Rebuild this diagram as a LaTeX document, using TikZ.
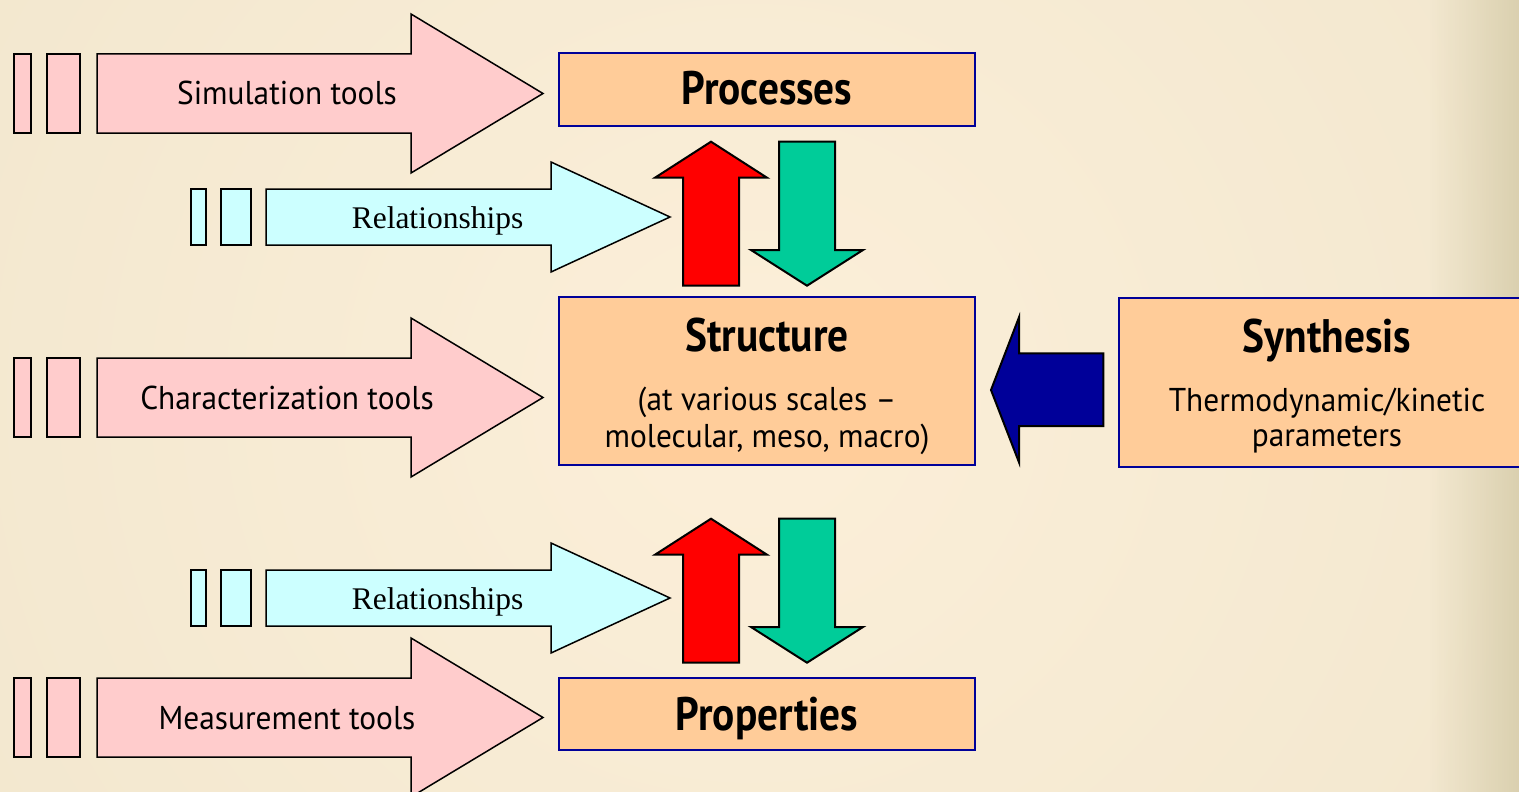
\documentclass[tikz,border=0pt]{standalone}
\usepackage{fontspec}
\setmainfont{Liberation Serif}
\newfontfamily\regf{PT Sans}[FakeStretch=0.95]
\newfontfamily\boldf{PT Sans}[FakeStretch=0.88]
\definecolor{pinkf}{HTML}{FFCCCC}
\definecolor{cyanf}{HTML}{CCFFFF}
\definecolor{peach}{HTML}{FFCC99}
\definecolor{navy}{HTML}{000099}
\definecolor{redf}{HTML}{FF0000}
\definecolor{greenf}{HTML}{00CC99}
\definecolor{bgin}{HTML}{FCEFD9}
\definecolor{bgout}{HTML}{E9E0C5}
\definecolor{bgedge}{HTML}{D6CCAA}
\tikzset{
  toolshape/.style={draw=black, line width=1.5pt, fill=pinkf, line join=miter},
  relshape/.style={draw=black, line width=1.5pt, fill=cyanf, line join=miter},
  upshape/.style={draw=black, line width=2pt, fill=redf, line join=miter},
  downshape/.style={draw=black, line width=2pt, fill=greenf, line join=miter},
  leftshape/.style={draw=black, line width=2pt, fill=navy, line join=miter},
  bluebox/.style={draw=navy, line width=2pt, fill=peach, minimum width=416pt, inner sep=0pt},
  tooltext/.style={font=\regf\fontsize{33}{38}\selectfont, anchor=base, inner sep=0pt},
  reltext/.style={font=\fontsize{31.5}{36}\selectfont, anchor=base, inner sep=0pt},
  titletext/.style={font=\boldf\bfseries\fontsize{47}{52}\selectfont, anchor=base, inner sep=0pt},
  subtext/.style={font=\regf\fontsize{33}{38}\selectfont, anchor=base, inner sep=0pt},
}
\newcommand{\toolarrow}[1]{%
  \draw[toolshape] (14,#1-39.5) rectangle (31,#1+39.5);
  \draw[toolshape] (47,#1-39.5) rectangle (80,#1+39.5);
  \draw[toolshape] (97,#1-39.5) -- (411,#1-39.5) -- (411,#1-79.5) -- (543,#1)
     -- (411,#1+79.5) -- (411,#1+39.5) -- (97,#1+39.5) -- cycle;}
\newcommand{\relarrow}[1]{%
  \draw[relshape] (191,#1-28) rectangle (206,#1+28);
  \draw[relshape] (221,#1-28) rectangle (251,#1+28);
  \draw[relshape] (266,#1-28) -- (551,#1-28) -- (551,#1-55) -- (670,#1)
     -- (551,#1+55) -- (551,#1+28) -- (266,#1+28) -- cycle;}
\newcommand{\updownpair}[1]{%
  \draw[upshape] (683,#1+144) -- (683,#1+36) -- (655,#1+36) -- (711,#1)
     -- (767,#1+36) -- (739,#1+36) -- (739,#1+144) -- cycle;
  \draw[downshape] (779,#1) -- (835,#1) -- (835,#1+108.3) -- (863,#1+108.3)
     -- (807,#1+144) -- (751,#1+108.3) -- (779,#1+108.3) -- cycle;}
\begin{document}
\begin{tikzpicture}[x=1pt,y=-1pt]
\useasboundingbox (0,0) rectangle (1519,792);
% background
\begin{scope}
  \clip (0,0) rectangle (1519,792);
  \fill[bgout] (0,0) rectangle (1519,792);
  \shade[inner color=bgin, outer color=bgout] (-1000,-1300) rectangle (2500,2100);
  \foreach \i in {0,...,39}
    \fill[bgedge, opacity={(\i+1)/40*0.85}] (1430+\i*2.25,0) rectangle (1432.4+\i*2.25,792);
\end{scope}
% tool arrows
\toolarrow{93.5}
\toolarrow{397.5}
\toolarrow{717.5}
\node[tooltext] (sim) at (287,105) {Simulation tools};
\node[tooltext] (cha) at (287,409) {Characterization tools};
\node[tooltext] (mea) at (287,729) {Measurement tools};
% relationship arrows
\relarrow{217}
\relarrow{598}
\node[reltext] (rel1) at (437.5,228.3) {Relationships};
\node[reltext] (rel2) at (437.5,609.3) {Relationships};
% up/down arrows
\updownpair{141.7}
\updownpair{518.7}
% boxes
\node[bluebox, minimum height=73pt] (proc) at (767,89.5) {};
\node[bluebox, minimum height=168pt] (struc) at (767,381) {};
\node[bluebox, minimum height=72pt] (prop) at (767,714) {};
\node[bluebox, minimum height=169pt] (synth) at (1327,382.5) {};
\node[titletext] (proct) at (767,105) {Processes};
\node[titletext] (struct) at (767,351.5) {Structure};
\node[subtext] (struc2) at (767,410) {(at various scales –};
\node[subtext] (struc3) at (767,447) {molecular, meso, macro)};
\node[titletext] (propt) at (767,730) {Properties};
\node[titletext] (syntht) at (1327,352) {Synthesis};
\node[subtext] (synth2) at (1327,411) {Thermodynamic/kinetic};
\node[subtext] (synth3) at (1327,446) {parameters};
% synthesis arrow
\draw[leftshape] (1103.3,353.3) -- (1103.3,426) -- (1019,426) -- (1019,462.3)
   -- (991,390) -- (1019,317.3) -- (1019,353.3) -- cycle;
\end{tikzpicture}
\end{document}
